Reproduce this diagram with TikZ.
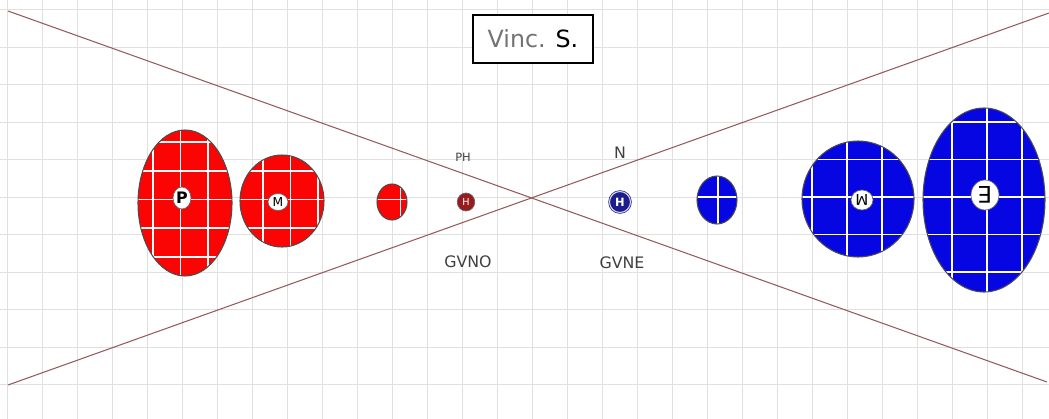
\documentclass[tikz,border=0pt]{standalone}
\usepackage{fontspec}
\setmainfont{DejaVu Sans}
\usepackage{xcolor}
\usetikzlibrary{positioning,shapes.geometric}

\definecolor{gridgray}{RGB}{224,224,224}
\definecolor{xline}{RGB}{150,90,90}
\definecolor{hotred}{RGB}{250,4,4}
\definecolor{deepblue}{RGB}{6,6,226}
\definecolor{maroon}{RGB}{150,28,32}
\definecolor{navyblue}{RGB}{28,28,140}

\begin{document}
\begin{tikzpicture}[x=0.02cm,y=-0.02cm,
    rim/.style={draw=black!70,line width=0.6pt},
    mesh/.style={white,line width=1pt},
    tag/.style={ellipse,fill=white,draw=black!60,line width=0.4pt,inner sep=0pt},
    lbl/.style={text=black!75,inner sep=0pt}]
    \useasboundingbox (0,0) rectangle (1049,419);
    \foreach \x in {0,...,29} {
        \draw[gridgray,line width=0.5pt] ({7+35*\x},0) -- ({7+35*\x},419);
    }
    \foreach \y in {0,...,10} {
        \draw[gridgray,line width=0.5pt] (0,{9.5+37.5*\y}) -- (1049,{9.5+37.5*\y});
    }

    \coordinate (ul) at (8,11);
    \coordinate (lr) at (1047,382);
    \coordinate (ll) at (8,385);
    \coordinate (ur) at (1049,13);
    \draw[xline,line width=0.6pt] (ul) -- (lr);
    \draw[xline,line width=0.6pt] (ll) -- (ur);

    \foreach \cx/\cy/\rx/\ry in {185/203/47/73,282/201/42/46,392/202/15/18} {
        \begin{scope}
            \clip (\cx,\cy) ellipse [x radius=\rx,y radius=\ry];
            \fill[hotred] (\cx,\cy) ellipse [x radius=\rx,y radius=\ry];
            \foreach \k in {0,...,11} {
                \draw[mesh] ({125.5+27.5*\k},100) -- ({125.5+27.5*\k},300);
            }
            \foreach \k in {0,...,6} {
                \draw[mesh] (100,{113.25+28.75*\k}) -- (450,{113.25+28.75*\k});
            }
        \end{scope}
        \draw[rim] (\cx,\cy) ellipse [x radius=\rx,y radius=\ry];
    }

    \foreach \cx/\cy/\rx/\ry in {858/199/56/58,984/200/61/92} {
        \begin{scope}
            \clip (\cx,\cy) ellipse [x radius=\rx,y radius=\ry];
            \fill[deepblue] (\cx,\cy) ellipse [x radius=\rx,y radius=\ry];
            \foreach \k in {22,...,29} {
                \draw[mesh] ({7+35*\k},100) -- ({7+35*\k},300);
            }
            \foreach \k in {2,...,8} {
                \draw[mesh] (780,{9.5+37.5*\k}) -- (1049,{9.5+37.5*\k});
            }
        \end{scope}
        \draw[rim] (\cx,\cy) ellipse [x radius=\rx,y radius=\ry];
    }
    \begin{scope}
        \clip (717,200) ellipse [x radius=20,y radius=24];
        \fill[deepblue] (717,200) ellipse [x radius=20,y radius=24];
        \draw[mesh] (718,170) -- (718,230);
        \draw[mesh] (690,197) -- (745,197);
    \end{scope}
    \draw[rim] (717,200) ellipse [x radius=20,y radius=24];

    \node[tag,minimum width=0.36cm,minimum height=0.44cm,font=\fontsize{9}{9}\selectfont\bfseries] (pp) at (182,198) {P};
    \node[tag,minimum width=0.4cm,minimum height=0.34cm,font=\fontsize{7}{7}\selectfont] (pm) at (278,202) {M};
    \node[ellipse,fill=maroon,draw=black!60,line width=0.4pt,inner sep=0pt,minimum width=0.35cm,minimum height=0.36cm,
        text=white,font=\fontsize{5.5}{6}\selectfont] (ph) at (466,202) {H};
    \node[circle,fill=navyblue,draw=navyblue,double=white!85!navyblue,double distance=0.6pt,inner sep=0pt,
        minimum size=0.42cm,text=white,font=\fontsize{6.5}{7}\selectfont\bfseries] (nh) at (620,202) {H};
    \node[tag,minimum width=0.44cm,minimum height=0.4cm,font=\fontsize{8.5}{9}\selectfont,rotate=180] (nm) at (862,200) {M};
    \node[tag,minimum width=0.56cm,minimum height=0.6cm,font=\fontsize{13}{13}\selectfont,rotate=180] (ne) at (985,195) {E};

    \node[lbl,font=\fontsize{6.5}{7}\selectfont] (phlbl) at (463,157) {PH};
    \node[lbl,font=\fontsize{9}{10}\selectfont] (nlbl) at (620,153) {N};
    \node[lbl,font=\fontsize{9}{10}\selectfont] (gvno) at (468,262) {GVNO};
    \node[lbl,font=\fontsize{9}{10}\selectfont] (gvne) at (622,263) {GVNE};

    \node[draw=black,fill=white,line width=0.8pt,minimum width=2.4cm,minimum height=0.96cm,
        font=\fontsize{13.5}{14}\selectfont] (title) at (533,39) {\textcolor{black!55}{Vinc.} S.};
\end{tikzpicture}
\end{document}
